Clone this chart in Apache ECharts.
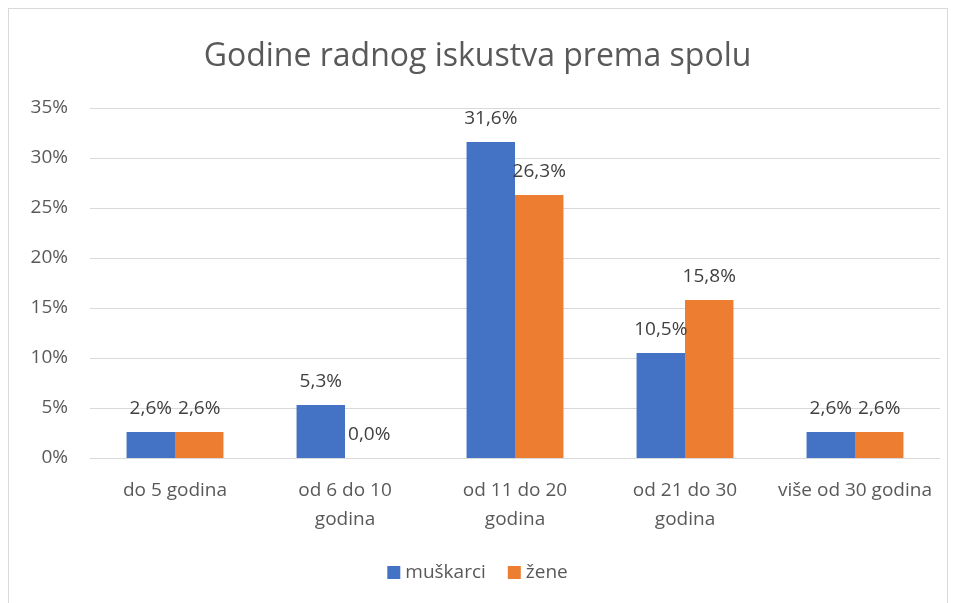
<!DOCTYPE html>
<html>
<head>
<meta charset="utf-8">
<script src="https://cdn.jsdelivr.net/npm/echarts@6/dist/echarts.min.js"></script>
<style>
	html, body { margin: 0; padding: 0; background: #fff; }
	#frame { position: absolute; left: 8px; top: 8px; width: 940px; height: 620px; border: 1px solid #d9d9d9; box-sizing: border-box; }
	#chart { width: 955px; height: 603px; }
</style>
</head>
<body>
<div id="frame"></div>
<div id="chart"></div>
<script>
	// tick labels on the category axis
	var categories = ["do 5 godina", "od 6 do 10\ngodina", "od 11 do 20\ngodina", "od 21 do 30\ngodina", "više od 30 godina"];
	var seriesNames = ["muškarci", "žene"];
	var muskarci = [2.6, 5.3, 31.6, 10.5, 2.6];
	var zene = [2.6, 0.0, 26.3, 15.8, 2.6];

	var font = "'Open Sans', sans-serif";

	function pct(v)
	{
		return v.toFixed(1).replace(".", ",") + "%";
	}

	var chart = echarts.init(document.getElementById("chart"));

	chart.setOption({
		animation: false,
		color: ["#4472C4", "#ED7D31"],
		title: {
			text: "Godine radnog iskustva prema spolu",
			left: "center",
			top: 36,
			textStyle: { fontFamily: font, fontSize: 32, fontWeight: "normal", color: "#595959" }
		},
		legend: {
			data: seriesNames,
			bottom: 16,
			left: "center",
			icon: "rect",
			itemWidth: 13,
			itemHeight: 13,
			itemGap: 22,
			itemStyle: { borderWidth: 0 },
			textStyle: { fontFamily: font, fontSize: 19, color: "#595959" }
		},
		grid: { left: 90, right: 15, top: 108, bottom: 145 },
		xAxis: {
			type: "category",
			data: categories,
			axisLine: { lineStyle: { color: "#d9d9d9", width: 1 } },
			axisTick: { show: false },
			axisLabel: { fontFamily: font, fontSize: 19, color: "#595959", margin: 18, lineHeight: 29, interval: 0 }
		},
		yAxis: {
			type: "value",
			min: 0,
			max: 35,
			interval: 5,
			axisLine: { show: false },
			axisTick: { show: false },
			splitLine: { lineStyle: { color: "#d9d9d9", width: 1 } },
			axisLabel: { fontFamily: font, fontSize: 19, color: "#595959", margin: 22, formatter: "{value}%" }
		},
		series: [
			{
				name: seriesNames[0],
				type: "bar",
				data: muskarci,
				barGap: "0%",
				barCategoryGap: "43%",
				label: {
					show: true,
					position: "top",
					distance: 14,
					fontFamily: font,
					fontSize: 19,
					color: "#404040",
					formatter: function(p) { return pct(p.value); }
				}
			},
			{
				name: seriesNames[1],
				type: "bar",
				data: zene,
				label: {
					show: true,
					position: "top",
					distance: 14,
					fontFamily: font,
					fontSize: 19,
					color: "#404040",
					formatter: function(p) { return pct(p.value); }
				}
			}
		]
	});
</script>
</body>
</html>
